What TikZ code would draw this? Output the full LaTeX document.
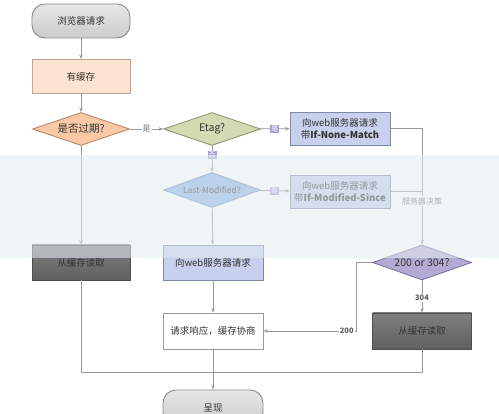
\documentclass[tikz,border=0pt]{standalone}
\usepackage{fontspec}
\setmainfont{Noto Sans CJK SC}
\usetikzlibrary{shapes.geometric,arrows.meta}
\definecolor{linec}{HTML}{999999}
\definecolor{termc}{HTML}{D6D6D6}
\definecolor{termb}{HTML}{8A8A8A}
\definecolor{cachec}{HTML}{FCE3CF}
\definecolor{cacheb}{HTML}{C4A48F}
\definecolor{expc}{HTML}{F8C9A4}
\definecolor{expb}{HTML}{B88A68}
\definecolor{etagc}{HTML}{D4DAB3}
\definecolor{etagb}{HTML}{8F9A6E}
\definecolor{webc}{HTML}{C7D0EC}
\definecolor{webb}{HTML}{7E89A8}
\definecolor{lmc}{HTML}{8DB3E2}
\definecolor{lmb}{HTML}{6C8DB8}
\definecolor{decc}{HTML}{B3ABD4}
\definecolor{decb}{HTML}{7D76A2}
\definecolor{darkc}{HTML}{717171}
\definecolor{darkb}{HTML}{4F4F4F}
\definecolor{tagc}{HTML}{A99BD6}
\definecolor{bandc}{HTML}{E3EBF1}
\definecolor{txtc}{HTML}{333333}
\tikzset{
  base/.style={draw, line width=0.9pt, inner sep=1pt, align=center, text=txtc, font=\fontsize{9.5}{12}\selectfont},
  term/.style={base, top color=termc!60, bottom color=termc!95!black, draw=termb, rounded corners=13pt, minimum width=98pt, minimum height=34pt},
  box/.style={base, minimum width=98pt, minimum height=34pt},
  darkbox/.style={box, top color=darkc!90!white, bottom color=darkc!85!black, draw=darkb},
  dia/.style={base, diamond, aspect=3.2, minimum width=97pt, minimum height=33pt, inner sep=0pt, font=\fontsize{10.5}{12}\selectfont},
  conn/.style={draw=linec, line width=0.9pt},
  arr/.style={conn, -{Stealth[length=4.5pt,width=3.5pt]}},
  lab/.style={font=\fontsize{7.5}{9}\selectfont\bfseries, text=txtc!80, fill=white, inner sep=1pt},
  tag/.style={font=\fontsize{7}{8}\selectfont, text=white, fill=tagc, inner sep=1pt},
}
\begin{document}
\begin{tikzpicture}[x=1pt,y=-1pt]
\useasboundingbox (0,0) rectangle (499,414);
\fill[white] (0,0) rectangle (499,414);
\begin{scope}
\clip (0,0) rectangle (499,414);
\node[term] (start) at (81,21) {浏览器请求};
\node[box, fill=cachec, draw=cacheb] (cache) at (81,76.5) {有缓存};
\node[dia, fill=expc, draw=expb] (expired) at (81,129) {是否过期?};
\node[dia, fill=etagc, draw=etagb] (etag) at (212,129) {Etag?};
\node[box, fill=webc, draw=webb, minimum width=100pt, minimum height=33pt] (inm) at (340,128.5) {向web服务器请求\\带\textbf{If-None-Match}};
\node[dia, fill=lmc, draw=lmb, minimum height=35pt, font=\fontsize{8.5}{10}\selectfont] (lm) at (212,190) {Last-Modified?};
\node[box, fill=webc, draw=webb, minimum width=100pt, minimum height=33pt] (ims) at (340,191.5) {向web服务器请求\\带\textbf{If-Modified-Since}};
\node[dia, fill=decc, draw=decb, minimum width=99pt, minimum height=35pt] (dec) at (422,262.5) {200 or 304?};
\node[darkbox, minimum height=35pt] (readL) at (81,262.5) {从缓存读取};
\node[box, fill=webc, draw=webb, minimum width=100pt, minimum height=35pt] (web) at (213,262.5) {向web服务器请求};
\node[box, fill=white, draw=linec, minimum width=100pt, minimum height=36pt] (resp) at (213,331) {请求响应，缓存协商};
\node[darkbox, minimum width=99pt, minimum height=36pt] (readR) at (422,331) {从缓存读取};
\node[term, minimum width=100pt, minimum height=36pt] (show) at (213,408) {呈现};
\coordinate (merge) at (213,372);
\coordinate (bend200) at (356,262.5);

\draw[arr] (start) -- (cache);
\draw[arr] (cache) -- (expired);
\draw[arr] (expired) -- node[lab, font=\fontsize{8}{9}\selectfont, text=txtc!70] {是} (etag);
\draw[arr] (etag) -- node[tag] {是} (inm);
\draw[arr] (etag) -- node[tag, pos=0.35] {否} (lm);
\draw[arr] (lm) -- node[tag] {是} (ims);
\draw[arr] (lm) -- (web);
\draw[arr] (expired) -- (readL);
\draw[arr] (inm.east) -| (dec.north);
\draw[conn] (ims.east) -- (ims.east -| dec.north);
\node[lab, font=\fontsize{8}{9}\selectfont, text=txtc!70] (srv) at (422,201) {服务器决策};
\draw[arr] (dec) -- node[lab, pos=0.55] {304} (readR);
\draw[conn] (dec.west) -- (bend200);
\draw[arr] (bend200) |- node[lab, pos=0.55] {200} (resp.east);
\draw[arr] (web) -- (resp);
\draw[conn] (readL.south) |- (merge);
\draw[conn] (readR.south) |- (merge);
\draw[arr] (resp) -- (show);
\fill[bandc, opacity=0.55] (0,155) rectangle (499,258);
\end{scope}
\end{tikzpicture}
\end{document}
